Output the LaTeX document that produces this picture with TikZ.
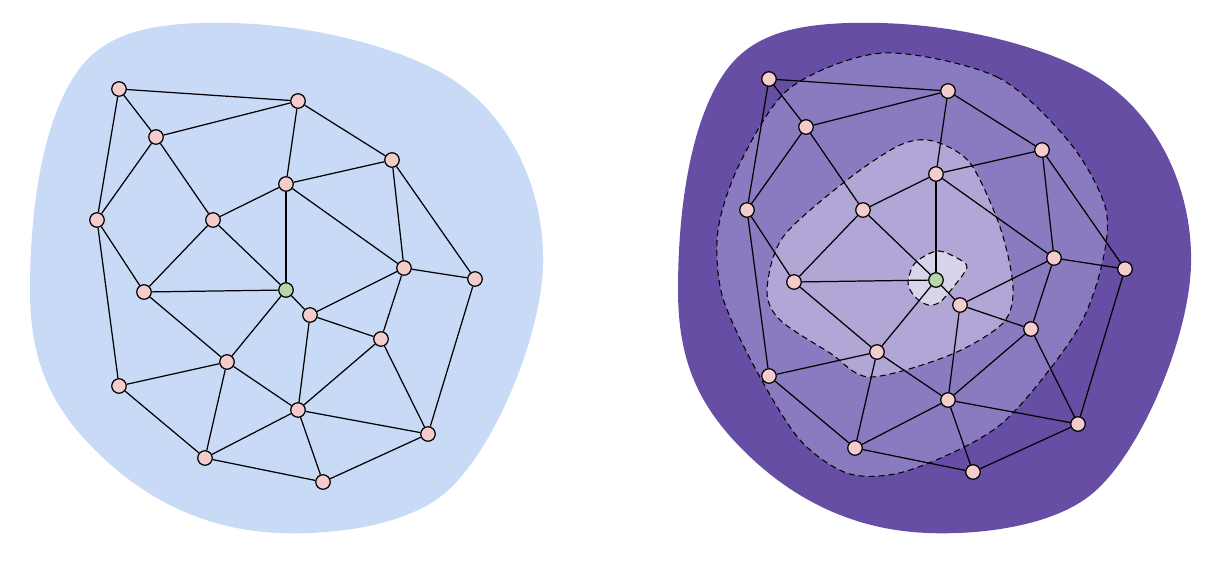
\documentclass[tikz,border=0pt]{standalone}

\definecolor{azulclaro}{HTML}{C9DAF7}
\definecolor{morado}{HTML}{654EA3}
\definecolor{moradomedio}{HTML}{8A7BC1}
\definecolor{moradoclaro}{HTML}{B1A6D5}
\definecolor{lila}{HTML}{DAD4EB}
\definecolor{rosa}{HTML}{F4CCCC}
\definecolor{verde}{HTML}{B6D7A8}

\begin{document}
\begin{tikzpicture}[x=0.02cm,y=-0.02cm,
        vert/.style={circle,draw=black,line width=0.7pt,inner sep=0pt,minimum size=0.29cm},
        arista/.style={line width=0.7pt},
        zona/.style={draw=black,dashed,dash pattern=on 3.4pt off 2.3pt,line width=0.6pt}]
        \useasboundingbox (0,0) rectangle (1206,568);

        % Manchas de fondo
        \foreach \dx/\col in {0/azulclaro,648/morado}
          \fill[\col,shift={(\dx,0)}] (200,23) .. controls (300,20) and (390,45) .. (440,72)
            .. controls (510,110) and (545,190) .. (543,265) .. controls (541,340) and (490,460) .. (440,497)
            .. controls (400,527) and (330,535) .. (280,533) .. controls (200,530) and (140,495) .. (95,450)
            .. controls (50,405) and (30,360) .. (30,290) .. controls (30,200) and (45,120) .. (75,75)
            .. controls (100,37) and (140,25) .. (200,23) -- cycle;

        % Zonas (a trazos)
        \filldraw[zona,fill=moradomedio] plot[smooth cycle] coordinates {(883,53) (997,77) (1070,143) (1106,210) (1100,272) (1073,337) (1000,425) (910,470) (850,474) (800,440) (755,368) (722,295) (718,230) (740,163) (790,88)};
        \filldraw[zona,fill=moradoclaro] plot[smooth cycle] coordinates {(933,141) (970,163) (1000,227) (1013,287) (1003,323) (950,355) (870,377) (830,353) (780,320) (767,290) (783,237) (847,180) (900,145)};
        \filldraw[zona,fill=lila] plot[smooth cycle] coordinates {(937,251) (957,258) (967,267) (955,285) (940,302) (928,305) (915,297) (908,283) (915,263)};

        % Grafos
        \foreach \p/\dx/\dy in {l/0/0,r/650/-10}{
          \begin{scope}[shift={(\dx,\dy)}]
            \foreach \n/\x/\y/\c in {a/119/89/rosa, b/298/101/rosa, c/156/137/rosa, d/392/160/rosa, e/286/184/rosa,
                f/97/220/rosa, g/213/220/rosa, h/404/268/rosa, i/475/279/rosa, j/144/292/rosa, k/286/290/verde,
                l/310/315/rosa, m/381/339/rosa, n/227/362/rosa, o/119/386/rosa, p/298/410/rosa, q/428/434/rosa,
                r/205/458/rosa, s/323/482/rosa}
              \node[vert,fill=\c] (\p\n) at (\x,\y) {};
            \foreach \u/\v in {a/b,a/c,a/f,b/c,b/e,b/d,c/f,c/g,d/e,d/h,d/i,e/g,e/k,e/h,f/j,f/o,g/j,g/k,
                h/i,h/l,h/m,i/q,j/k,j/n,k/l,k/n,l/m,l/p,m/p,m/q,n/o,n/r,n/p,o/r,p/r,p/s,p/q,q/s,r/s}
              \draw[arista] (\p\u) -- (\p\v);
          \end{scope}
        }
\end{tikzpicture}
\end{document}
